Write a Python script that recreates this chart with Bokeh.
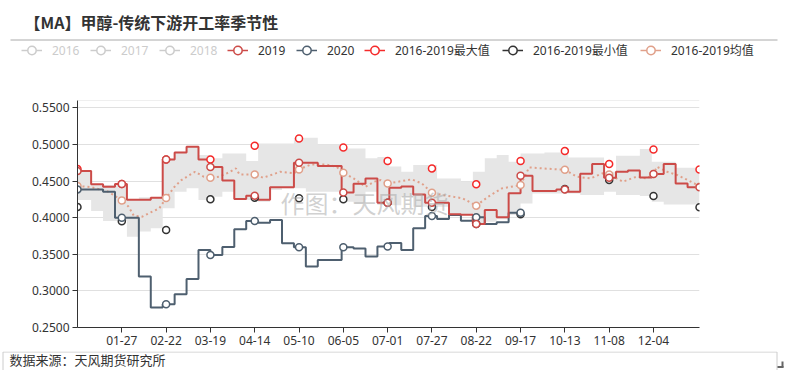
from datetime import date
import numpy as np
from bokeh.plotting import figure
from bokeh.layouts import column
from bokeh.models import (Range1d, FixedTicker, PrintfTickFormatter, Span, Label,
                          Legend, LegendItem)
from bokeh.embed import file_html
from bokeh.resources import INLINE

# ---------------- texts ----------------
title_text = "【MA】甲醇-传统下游开工率季节性"
source_text = "数据来源：天风期货研究所"
watermark_text = "作图：天风期货"
legend_labels = ["2016", "2017", "2018", "2019", "2020",
                 "2016-2019最大值", "2016-2019最小值", "2016-2019均值"]

# ---------------- axes ----------------
x_tick_labels = ["01-27", "02-22", "03-19", "04-14", "05-10", "06-05", "07-01",
                 "07-27", "08-22", "09-17", "10-13", "11-08", "12-04"]
y_ticks = [0.25, 0.30, 0.35, 0.40, 0.45, 0.50, 0.55]
y_max = 0.56

# ---------------- weekly series (one value per week) ----------------
s2019 = [0.4636, 0.4455, 0.4423, 0.4459, 0.4245, 0.4245, 0.4273, 0.4795, 0.4891, 0.4968,
         0.4795, 0.4691, 0.4509, 0.4255, 0.4300, 0.4245, 0.4414, 0.4414, 0.4750, 0.4750,
         0.4705, 0.4705, 0.4345, 0.4464, 0.4536, 0.4205, 0.4410, 0.4427, 0.4318, 0.4205,
         0.4205, 0.4045, 0.4040, 0.3914, 0.4105, 0.4005, 0.4332, 0.4573, 0.4364, 0.4364,
         0.4386, 0.4355, 0.4600, 0.4732, 0.4545, 0.4627, 0.4645, 0.4550, 0.4595, 0.4732,
         0.4468, 0.4414]
s2020 = [0.4386, 0.4386, 0.4355, 0.4000, 0.4000, 0.3195, 0.2773, 0.2818, 0.2955, 0.3164,
         0.3559, 0.3491, 0.3600, 0.3841, 0.3955, 0.3932, 0.3968, 0.3650, 0.3595, 0.3332,
         0.3423, 0.3423, 0.3595, 0.3580, 0.3468, 0.3605, 0.3655, 0.3559, 0.3855, 0.4023,
         0.3982, 0.4036, 0.3959, 0.4005, 0.3914, 0.3936, 0.4068]
s2020_end = "09-17"
band_upper = [0.4636, 0.4445, 0.4445, 0.4445, 0.4245, 0.4280, 0.4273, 0.4795, 0.4900, 0.4968,
              0.4855, 0.4810, 0.4877, 0.4877, 0.4773, 0.5014, 0.5014, 0.5014, 0.5090, 0.5090,
              0.5000, 0.5000, 0.4945, 0.4945, 0.4810, 0.4830, 0.4700, 0.4627, 0.4718, 0.4718,
              0.4536, 0.4536, 0.4490, 0.4627, 0.4810, 0.4855, 0.4764, 0.4877, 0.4877, 0.4890,
              0.4890, 0.4823, 0.4823, 0.4820, 0.4627, 0.4845, 0.4845, 0.4936, 0.4764, 0.4764,
              0.4680, 0.4680]
band_lower = [0.4241, 0.4090, 0.3955, 0.3955, 0.3740, 0.3810, 0.3855, 0.4127, 0.4355, 0.4400,
              0.4240, 0.4286, 0.4355, 0.4240, 0.4240, 0.4218, 0.4377, 0.4400, 0.4400, 0.4355,
              0.4355, 0.4355, 0.4218, 0.4195, 0.4355, 0.4173, 0.4170, 0.4286, 0.4150, 0.4150,
              0.4150, 0.4036, 0.4036, 0.3900, 0.3945, 0.3980, 0.4036, 0.4195, 0.4330, 0.4330,
              0.4330, 0.4330, 0.4310, 0.4310, 0.4355, 0.4310, 0.4310, 0.4295, 0.4218, 0.4180,
              0.4180, 0.4180]

# ---------------- mean (day of year, value) ----------------
mean_days = [0, 8, 18, 26, 30, 33, 38, 43, 48, 52, 57, 61, 69, 74, 78, 83, 89, 93, 95, 104,
             109, 119, 127, 130, 137, 146, 152, 156, 162, 169, 174, 178, 182, 188, 196, 202,
             208, 214, 226, 234, 241, 249, 260, 265, 273, 279, 286, 293, 301, 308, 312, 320,
             328, 334, 338, 340, 346, 352, 358, 362, 365]
mean_vals = [0.4432, 0.4418, 0.4355, 0.4236, 0.4150, 0.4027, 0.4014, 0.4073, 0.4127, 0.4268,
             0.4423, 0.4514, 0.4627, 0.4559, 0.4545, 0.4559, 0.4620, 0.4673, 0.4591, 0.4591,
             0.4545, 0.4627, 0.4605, 0.4659, 0.4727, 0.4727, 0.4695, 0.4614, 0.4536, 0.4423,
             0.4491, 0.4514, 0.4468, 0.4490, 0.4523, 0.4468, 0.4341, 0.4310, 0.4264, 0.4164,
             0.4286, 0.4400, 0.4445, 0.4686, 0.4673, 0.4664, 0.4655, 0.4559, 0.4536, 0.4605,
             0.4591, 0.4491, 0.4559, 0.4536, 0.4595, 0.4695, 0.4627, 0.4582, 0.4514, 0.4468,
             0.4423]

# max / min at the marked days (first day, each labelled day, last day)
max_marks = [0.4664, 0.4459, 0.4795, 0.4795, 0.4982, 0.5082, 0.4959, 0.4773, 0.4673,
             0.4455, 0.4773, 0.4909, 0.4732, 0.4932, 0.4659]
min_marks = [0.4145, 0.3950, 0.3832, 0.4250, 0.4273, 0.4264, 0.4250, 0.4205, 0.4145,
             0.3914, 0.4045, 0.4391, 0.4514, 0.4295, 0.4141]

# ---------------- colours / fonts ----------------
C2019 = "#cc4b48"
C2020 = "#4e5f6f"
CMAX = "#f52a2a"
CMIN = "#333333"
CMEAN = "#e0a08a"
CBAND = "#e6e6e6"
CGREY = "#cccccc"
TXT = "#333333"
LATIN = "Noto Sans, Noto Sans CJK SC"
CJK = "Noto Sans CJK SC"

# ---------------- derived positions (day of leap year) ----------------
def doy(mmdd):
    m, d = map(int, mmdd.split("-"))
    return (date(2020, m, d) - date(2020, 1, 1)).days

last_day = (date(2020, 12, 31) - date(2020, 1, 1)).days
tick_days = [doy(t) for t in x_tick_labels]
mark_days = [0] + tick_days + [last_day]
week_days = [0] + [7 * k + 1 for k in range(1, len(s2019))]


def step_xy(vals, end):
    xs = week_days[:len(vals)] + [end]
    ys = list(vals) + [vals[-1]]
    return xs, ys


def step_at(vals, d):
    k = 0
    for i, w in enumerate(week_days[:len(vals)]):
        if w <= d:
            k = i
    return vals[k]


W = 788
HEAD_H, MAIN_H, FOOT_H = 64, 287, 19


def no_align(f):
    if "frame_align" in type(f).properties():
        f.frame_align = False
    return f


def blank(h):
    f = figure(width=W, height=h, output_backend="svg", toolbar_location=None,
               x_range=Range1d(0, W), y_range=Range1d(h, 0), min_border=0,
               min_border_left=0, min_border_right=0, min_border_top=0, min_border_bottom=0,
               x_axis_type=None, y_axis_type=None)
    f.outline_line_color = None
    f.grid.visible = False
    f.background_fill_color = "white"
    f.border_fill_color = "white"
    return no_align(f)


# ---------------- header: title, rule, legend ----------------
head = blank(HEAD_H)
head.add_layout(Label(x=24, y=21, text=title_text, text_font=CJK, text_font_size="16px",
                      text_font_style="bold", text_color=TXT, text_baseline="middle"))
head.line([10, 777], [39.5, 39.5], line_color="#aaaaaa", line_width=1)

legend_x = [21, 90, 159, 227, 296, 364, 502, 640]   # layout: left edge of each legend icon
leg_colors = [CGREY, CGREY, CGREY, C2019, C2020, CMAX, CMIN, CMEAN]
for i, (lab, col) in enumerate(zip(legend_labels, leg_colors)):
    # legend-only renderers, placed outside the visible canvas
    lr = head.line([-60, -40], [-60, -60], line_color=col, line_width=1.5)
    sr = head.scatter([-50], [-60], marker="circle", fill_color="white",
                      line_color=col, line_width=1.5)
    leg = Legend(items=[LegendItem(label=lab, renderers=[lr, sr])],
                 orientation="horizontal", location=(legend_x[i], 3),
                 glyph_width=21, glyph_height=22, label_standoff=10, spacing=0,
                 padding=0, margin=0, border_line_color=None, background_fill_alpha=0,
                 label_text_font=LATIN, label_text_font_size="12px",
                 label_text_color=(CGREY if i < 3 else TXT), label_height=20)
    head.add_layout(leg)

# ---------------- main chart ----------------
p = figure(width=W, height=MAIN_H, output_backend="svg", toolbar_location=None,
           x_range=Range1d(0, last_day), y_range=Range1d(y_ticks[0], y_max),
           min_border_left=77, min_border_right=89, min_border_top=36, min_border_bottom=24)
no_align(p)
p.outline_line_color = None
p.background_fill_color = "white"
p.border_fill_color = "white"
p.xgrid.visible = False
p.ygrid.grid_line_color = "#e0e0e0"
p.add_layout(Span(location=y_max, dimension="width", line_color="#e0e0e0", line_width=1))

p.yaxis.ticker = FixedTicker(ticks=y_ticks)
p.yaxis.formatter = PrintfTickFormatter(format="%.4f")
p.xaxis.ticker = FixedTicker(ticks=tick_days)
p.xaxis.major_label_overrides = {d: lab for d, lab in zip(tick_days, x_tick_labels)}
for ax in (p.xaxis, p.yaxis):
    ax.axis_line_color = TXT
    ax.axis_line_width = 1
    ax.major_tick_line_color = TXT
    ax.major_tick_out = 5
    ax.major_tick_in = 0
    ax.minor_tick_out = 0
    ax.minor_tick_in = 0
    ax.major_label_text_font = LATIN
    ax.major_label_text_font_size = "12px"
    ax.major_label_text_color = TXT
p.yaxis.major_label_standoff = 3
p.xaxis.major_label_standoff = 3

bx, bl = step_xy(band_lower, last_day)
_, bu = step_xy(band_upper, last_day)
p.varea_step(x=bx, y1=bl, y2=bu, step_mode="after", fill_color=CBAND, fill_alpha=1)

p.line(mean_days, mean_vals, line_color=CMEAN, line_width=2, line_dash="2 3")

x20, y20 = step_xy(s2020, doy(s2020_end))
p.step(x20, y20, mode="after", line_color=C2020, line_width=2)
x19, y19 = step_xy(s2019, last_day)
p.step(x19, y19, mode="after", line_color=C2019, line_width=2)

mean_mark_vals = list(np.interp(mark_days, mean_days, mean_vals))
p.scatter(mark_days, mean_mark_vals, marker="circle", size=7, fill_color="white",
          line_color=CMEAN, line_width=1.5)
p.scatter(mark_days, max_marks, marker="circle", size=7, fill_color="white",
          line_color=CMAX, line_width=1.5)
p.scatter(mark_days, min_marks, marker="circle", size=7, fill_color="white",
          line_color=CMIN, line_width=1.5)
d20 = [d for d in mark_days if d <= doy(s2020_end)]
p.scatter(d20, [step_at(s2020, d) for d in d20], marker="circle", size=7,
          fill_color="white", line_color=C2020, line_width=1.5)
p.scatter(mark_days, [step_at(s2019, d) for d in mark_days], marker="circle", size=7,
          fill_color="white", line_color=C2019, line_width=1.5)

p.add_layout(Label(x=203, y=125, x_units="screen", y_units="screen",
                   text=watermark_text, text_font=CJK, text_font_size="24px",
                   text_color="#aaaaaa", text_alpha=0.55, text_baseline="middle"))

# ---------------- footer ----------------
foot = blank(FOOT_H)
foot.line([2.5, 2.5, 776.5, 776.5], [FOOT_H, 0.5, 0.5, FOOT_H], line_color="#cccccc")
foot.line([782, 782], [10, 16], line_color="#666666", line_width=2)
foot.line([777, 783], [15.5, 15.5], line_color="#666666", line_width=2)
foot.add_layout(Label(x=9, y=8, text=source_text, text_font=CJK, text_font_size="13px",
                      text_color=TXT, text_baseline="middle"))

layout = column(head, p, foot, spacing=0)
open("out.html", "w").write(file_html(layout, INLINE))
